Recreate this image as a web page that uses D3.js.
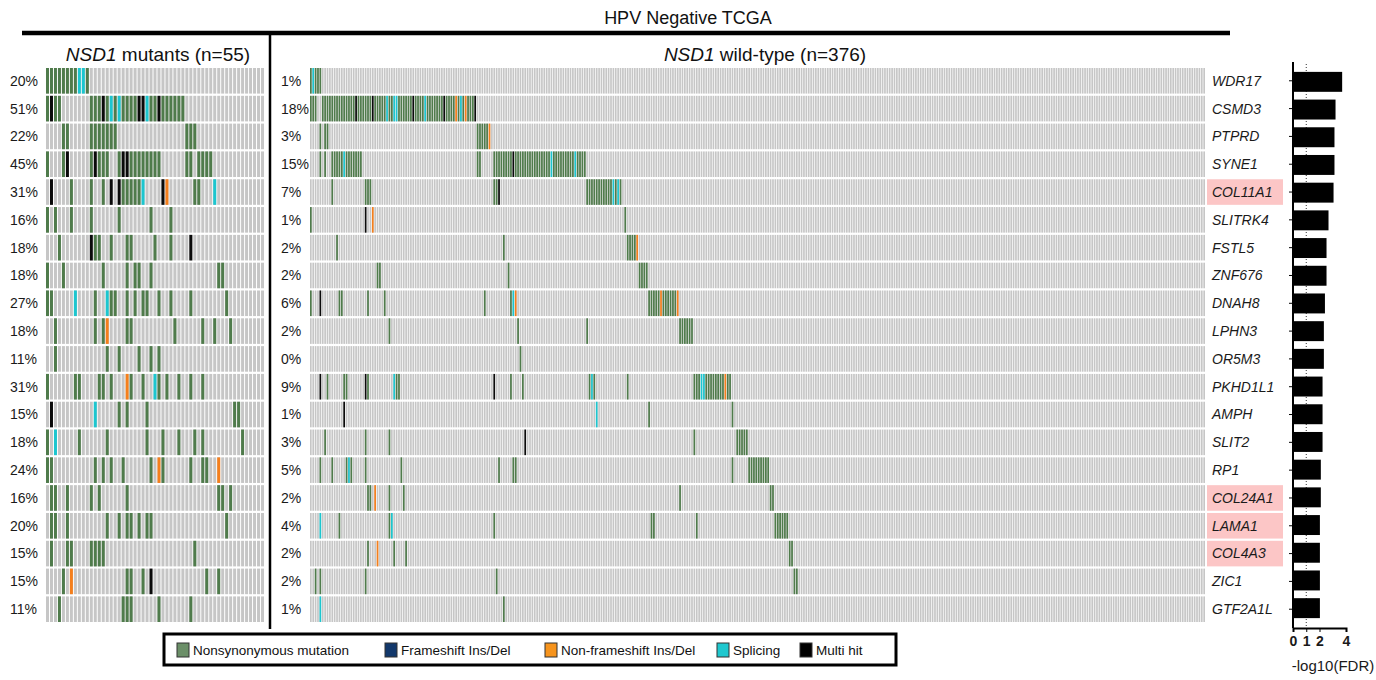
<!DOCTYPE html>
<html>
<head>
<meta charset="utf-8">
<script src="https://cdn.jsdelivr.net/npm/d3@7"></script>
<style>
  body { margin: 0; background: #fff; }
  svg { display: block; }
  .narrow { font-family: "Liberation Sans", Arial, sans-serif; fill: #111; }
  .lab { font-family: "Liberation Sans", Arial, sans-serif; fill: #1a1a1a; }
</style>
</head>
<body>
<div id="chart"></div>
<script>
var width = 1376, height = 680;

var genes = ["WDR17", "CSMD3", "PTPRD", "SYNE1", "COL11A1", "SLITRK4", "FSTL5", "ZNF676", "DNAH8", "LPHN3",
             "OR5M3", "PKHD1L1", "AMPH", "SLIT2", "RP1", "COL24A1", "LAMA1", "COL4A3", "ZIC1", "GTF2A1L"];
var mutantPct = ["20%", "51%", "22%", "45%", "31%", "16%", "18%", "18%", "27%", "18%",
                 "11%", "31%", "15%", "18%", "24%", "16%", "20%", "15%", "15%", "11%"];
var wildPct = ["1%", "18%", "3%", "15%", "7%", "1%", "2%", "2%", "6%", "2%",
               "0%", "9%", "1%", "3%", "5%", "2%", "4%", "2%", "2%", "1%"];
var fdrScore = [3.71, 3.21, 3.13, 3.13, 3.06, 2.68, 2.53, 2.53, 2.41, 2.33,
                2.33, 2.23, 2.23, 2.23, 2.10, 2.10, 2.03, 2.03, 2.03, 2.03];
var fdrTicks = [0, 1, 2, 4];
var highlighted = ["COL11A1", "COL24A1", "LAMA1", "COL4A3"];
var nMutant = 55, nWild = 376;

// mutation classes: n nonsynonymous, f frameshift, i non-frameshift, s splicing, m multi hit
var classes = ["n", "f", "i", "s", "m"];
var classNames = ["Nonsynonymous mutation", "Frameshift Ins/Del", "Non-frameshift Ins/Del", "Splicing", "Multi hit"];

// runs of samples per gene: [firstSample, lastSample, class]
var mutantHits = [
  [[0,7,"n"],[8,9,"s"],[10,10,"n"]],
  [[0,0,"n"],[1,1,"m"],[2,3,"n"],[11,13,"n"],[14,14,"m"],[15,15,"n"],[16,16,"s"],[17,17,"n"],[18,18,"s"],[19,22,"n"],[23,24,"m"],[25,25,"s"],[26,27,"n"],[28,28,"m"],[29,34,"n"]],
  [[4,5,"n"],[11,17,"n"],[35,37,"n"]],
  [[0,0,"n"],[4,4,"n"],[5,5,"m"],[11,11,"n"],[12,12,"m"],[13,15,"n"],[18,18,"n"],[19,20,"m"],[21,28,"n"],[35,36,"n"],[38,41,"n"]],
  [[1,1,"m"],[6,6,"n"],[11,11,"n"],[14,14,"n"],[16,16,"m"],[18,18,"m"],[19,23,"n"],[24,24,"s"],[29,29,"m"],[30,30,"i"],[37,38,"n"],[42,42,"s"]],
  [[0,0,"n"],[2,2,"n"],[6,6,"n"],[11,11,"n"],[18,18,"n"],[26,26,"n"],[31,31,"n"]],
  [[3,3,"n"],[11,11,"m"],[12,13,"n"],[16,16,"n"],[20,21,"n"],[27,27,"n"],[31,31,"n"],[36,36,"m"]],
  [[0,0,"n"],[4,4,"n"],[14,14,"n"],[20,20,"n"],[22,23,"n"],[26,26,"n"],[43,44,"n"]],
  [[0,1,"n"],[7,7,"s"],[12,12,"n"],[15,15,"s"],[16,17,"n"],[20,20,"n"],[22,22,"n"],[24,25,"n"],[28,28,"n"],[31,31,"n"],[36,36,"n"],[45,45,"n"]],
  [[2,2,"n"],[12,12,"n"],[14,14,"n"],[15,15,"i"],[20,21,"n"],[32,32,"n"],[39,39,"n"],[42,42,"n"],[46,46,"n"]],
  [[2,2,"n"],[15,15,"n"],[18,18,"n"],[23,23,"n"],[26,26,"n"],[28,28,"n"]],
  [[0,0,"n"],[7,8,"n"],[13,14,"n"],[16,16,"n"],[20,20,"i"],[21,21,"n"],[24,24,"n"],[27,27,"s"],[28,28,"n"],[30,30,"n"],[33,33,"n"],[36,36,"n"],[39,39,"n"]],
  [[1,1,"m"],[12,12,"s"],[18,18,"n"],[20,20,"n"],[25,25,"n"],[47,48,"n"]],
  [[0,0,"n"],[2,2,"s"],[8,8,"n"],[15,15,"n"],[25,25,"n"],[29,29,"n"],[33,33,"n"],[37,37,"n"],[39,39,"n"],[49,49,"n"]],
  [[0,1,"n"],[12,12,"n"],[14,14,"n"],[16,16,"n"],[19,19,"n"],[26,26,"n"],[28,28,"i"],[29,29,"n"],[36,36,"n"],[39,40,"n"],[43,43,"i"]],
  [[1,2,"n"],[5,5,"n"],[11,11,"n"],[13,13,"n"],[20,20,"n"],[43,44,"n"],[46,46,"n"]],
  [[1,2,"n"],[5,5,"n"],[15,15,"n"],[18,18,"n"],[20,21,"n"],[23,23,"n"],[25,26,"n"],[45,45,"n"]],
  [[1,1,"n"],[5,6,"n"],[11,14,"n"],[37,37,"n"]],
  [[4,4,"n"],[6,6,"i"],[20,21,"n"],[24,24,"n"],[26,26,"m"],[40,40,"n"],[43,43,"n"]],
  [[3,3,"n"],[19,21,"n"],[28,28,"n"],[36,36,"n"]]
];

var wildHits = [
  [[0,0,"n"],[1,1,"s"],[2,4,"n"]],
  [[0,2,"n"],[5,18,"n"],[19,19,"m"],[20,25,"n"],[26,26,"m"],[27,31,"n"],[32,32,"s"],[33,34,"n"],[35,36,"s"],[37,42,"n"],[43,43,"m"],[44,47,"n"],[48,48,"s"],[49,55,"n"],[56,56,"m"],[57,60,"n"],[61,61,"i"],[62,62,"n"],[63,63,"s"],[64,64,"n"],[65,65,"i"],[66,68,"n"],[69,69,"m"]],
  [[4,4,"n"],[6,7,"n"],[70,74,"n"],[75,75,"i"]],
  [[4,4,"n"],[6,6,"n"],[9,13,"n"],[14,14,"s"],[15,21,"n"],[70,71,"n"],[77,84,"n"],[85,85,"m"],[86,100,"n"],[101,101,"s"],[102,110,"n"],[111,111,"s"],[112,115,"n"]],
  [[9,9,"n"],[23,25,"n"],[77,78,"n"],[79,79,"m"],[116,126,"n"],[127,127,"s"],[128,128,"n"],[129,129,"s"],[130,130,"n"]],
  [[0,0,"n"],[23,23,"m"],[26,26,"i"],[132,132,"n"]],
  [[11,11,"n"],[81,81,"n"],[133,136,"n"],[137,137,"i"]],
  [[28,29,"n"],[83,83,"n"],[138,141,"n"]],
  [[0,0,"n"],[4,4,"m"],[12,13,"n"],[24,24,"n"],[31,31,"n"],[73,73,"n"],[84,84,"n"],[85,85,"s"],[86,86,"i"],[142,146,"n"],[147,147,"i"],[148,153,"n"],[154,154,"i"]],
  [[33,33,"n"],[87,87,"n"],[116,116,"n"],[155,160,"n"]],
  [[88,88,"n"]],
  [[4,4,"m"],[7,7,"n"],[14,15,"n"],[23,23,"m"],[24,24,"n"],[35,35,"s"],[36,37,"n"],[77,77,"m"],[84,84,"n"],[89,89,"n"],[117,117,"n"],[118,118,"s"],[119,119,"n"],[133,133,"n"],[161,163,"n"],[164,165,"s"],[166,173,"n"],[174,174,"i"],[175,176,"n"]],
  [[14,14,"m"],[120,120,"s"],[142,142,"n"],[177,177,"n"]],
  [[6,6,"n"],[23,23,"n"],[33,33,"n"],[90,90,"m"],[161,161,"n"],[179,183,"n"]],
  [[4,4,"n"],[9,9,"n"],[15,15,"n"],[16,16,"s"],[17,17,"n"],[23,23,"n"],[38,38,"n"],[79,79,"n"],[85,86,"n"],[177,177,"n"],[184,192,"n"]],
  [[24,25,"n"],[27,27,"i"],[33,33,"n"],[39,39,"n"],[155,155,"n"],[193,194,"n"]],
  [[4,4,"s"],[12,12,"n"],[33,33,"n"],[34,34,"s"],[77,77,"n"],[143,144,"n"],[162,162,"n"],[195,200,"n"]],
  [[24,24,"n"],[28,28,"i"],[35,35,"n"],[40,40,"n"],[201,202,"n"]],
  [[2,2,"n"],[4,4,"n"],[23,23,"n"],[78,78,"n"],[203,204,"n"]],
  [[4,4,"s"],[81,81,"n"]]
];

var cellColor = d3.scaleOrdinal().domain(classes)
    .range(["#4f7b4b", "#0d2d5c", "#f57f1c", "#1cc6cf", "#0a0a0a"]);
var swatchColor = d3.scaleOrdinal().domain(classes)
    .range(["#6b8f68", "#12386b", "#f7941d", "#1fc8cf", "#000000"]);

function expand(runs) {
  var cells = [];
  runs.forEach(function (r) {
    for (var k = r[0]; k <= r[1]; k++) cells.push({ col: k, cls: r[2] });
  });
  return cells;
}

var svg = d3.select("#chart").append("svg")
    .attr("width", width).attr("height", height);

var y = d3.scaleBand().domain(genes).range([68, 622]).paddingInner(0.08);

var xMut = d3.scaleBand().domain(d3.range(nMutant)).range([46, 264]).paddingInner(0.25);
var xWild = d3.scaleBand().domain(d3.range(nWild)).range([310, 1205]).paddingInner(0.3);

function drawPanel(x, n, hits, cls) {
  var g = svg.append("g").attr("class", cls);
  genes.forEach(function (gene, gi) {
    var row = g.append("g");
    row.selectAll("rect.bg")
      .data(d3.range(n))
      .enter().append("rect")
      .attr("class", "bg")
      .attr("x", function (d) { return x(d); })
      .attr("y", y(gene))
      .attr("width", x.bandwidth())
      .attr("height", y.bandwidth())
      .attr("fill", "#c6c6c6");
    row.selectAll("rect.hit")
      .data(expand(hits[gi]))
      .enter().append("rect")
      .attr("class", "hit")
      .attr("x", function (d) { return x(d.col); })
      .attr("y", y(gene))
      .attr("width", x.bandwidth())
      .attr("height", y.bandwidth())
      .attr("fill", function (d) { return cellColor(d.cls); });
  });
}

drawPanel(xMut, nMutant, mutantHits, "mutants");
drawPanel(xWild, nWild, wildHits, "wildtype");

// percent labels
svg.append("g").selectAll("text")
  .data(genes).enter().append("text")
  .attr("class", "lab")
  .attr("x", 10)
  .attr("y", function (d) { return y(d) + y.bandwidth() / 2; })
  .attr("dy", "0.35em")
  .style("font-size", "14px")
  .text(function (d, i) { return mutantPct[i]; });

svg.append("g").selectAll("text")
  .data(genes).enter().append("text")
  .attr("class", "lab")
  .attr("x", 281)
  .attr("y", function (d) { return y(d) + y.bandwidth() / 2; })
  .attr("dy", "0.35em")
  .style("font-size", "14px")
  .text(function (d, i) { return wildPct[i]; });

// gene names with highlight
svg.append("g").selectAll("rect")
  .data(highlighted).enter().append("rect")
  .attr("x", 1207)
  .attr("y", function (d) { return y(d); })
  .attr("width", 76)
  .attr("height", y.bandwidth())
  .attr("fill", "#fcc6c6");

svg.append("g").selectAll("text")
  .data(genes).enter().append("text")
  .attr("class", "lab")
  .attr("x", 1212)
  .attr("y", function (d) { return y(d) + y.bandwidth() / 2; })
  .attr("dy", "0.35em")
  .style("font-size", "14px")
  .style("font-style", "italic")
  .text(function (d) { return d; });

// headers
svg.append("text")
  .attr("class", "narrow")
  .attr("x", 688).attr("y", 24)
  .attr("text-anchor", "middle")
  .style("font-size", "18px")
  .text("HPV Negative TCGA");

svg.append("line")
  .attr("x1", 22).attr("x2", 1230)
  .attr("y1", 33).attr("y2", 33)
  .attr("stroke", "#000").attr("stroke-width", 4.5);

svg.append("line")
  .attr("x1", 270).attr("x2", 270)
  .attr("y1", 33).attr("y2", 629)
  .attr("stroke", "#000").attr("stroke-width", 2.5);

var h1 = svg.append("text")
  .attr("class", "narrow")
  .attr("x", 158).attr("y", 61)
  .attr("text-anchor", "middle")
  .style("font-size", "19px");
h1.append("tspan").style("font-style", "italic").text("NSD1");
h1.append("tspan").text(" mutants (n=55)");

var h2 = svg.append("text")
  .attr("class", "narrow")
  .attr("x", 765).attr("y", 61)
  .attr("text-anchor", "middle")
  .style("font-size", "19px");
h2.append("tspan").style("font-style", "italic").text("NSD1");
h2.append("tspan").text(" wild-type (n=376)");

// -log10(FDR) bars
var xFdr = d3.scaleLinear().domain([0, 4]).range([1293, 1346]);
var yFdr = d3.scaleBand().domain(genes).range([68, 622]).paddingInner(0.28).paddingOuter(0.14);

svg.append("line")
  .attr("x1", xFdr(1)).attr("x2", xFdr(1))
  .attr("y1", 64).attr("y2", 627)
  .attr("stroke", "#333").attr("stroke-width", 1)
  .attr("stroke-dasharray", "1,2");

svg.append("g").selectAll("rect")
  .data(genes).enter().append("rect")
  .attr("x", xFdr(0))
  .attr("y", function (d) { return yFdr(d); })
  .attr("width", function (d, i) { return xFdr(fdrScore[i]) - xFdr(0); })
  .attr("height", yFdr.bandwidth())
  .attr("fill", "#000");

var yAxis = svg.append("g")
  .attr("transform", "translate(" + xFdr(0) + ",0)")
  .call(d3.axisLeft(y).tickSize(4).tickFormat(""));
yAxis.select(".domain").attr("d", "M0,62V628").attr("stroke-width", 2);

var xAxis = svg.append("g")
  .attr("transform", "translate(0,628)")
  .call(d3.axisBottom(xFdr).tickValues(fdrTicks).tickSize(4).tickPadding(4).tickFormat(d3.format("d")));
xAxis.select(".domain").attr("stroke-width", 2);
xAxis.selectAll("text")
  .attr("class", "lab")
  .style("font-size", "14px")
  .style("font-weight", "bold");

svg.append("text")
  .attr("class", "lab")
  .attr("x", 1333).attr("y", 671)
  .attr("text-anchor", "middle")
  .style("font-size", "15px")
  .text("-log10(FDR)");

// legend
var legend = svg.append("g");
legend.append("rect")
  .attr("x", 164).attr("y", 634)
  .attr("width", 732).attr("height", 31)
  .attr("fill", "#fff").attr("stroke", "#000").attr("stroke-width", 3);

var legendX = [177, 385, 545, 717, 800];
var item = legend.selectAll("g.item")
  .data(classes).enter().append("g")
  .attr("class", "item")
  .attr("transform", function (d, i) { return "translate(" + legendX[i] + ",643)"; });
item.append("rect")
  .attr("width", 12).attr("height", 14)
  .attr("fill", function (d) { return swatchColor(d); })
  .attr("stroke", "#333").attr("stroke-width", 1);
item.append("text")
  .attr("class", "narrow")
  .attr("x", 16).attr("y", 7)
  .attr("dy", "0.35em")
  .style("font-size", "13.5px")
  .text(function (d, i) { return classNames[i]; });
</script>
</body>
</html>
